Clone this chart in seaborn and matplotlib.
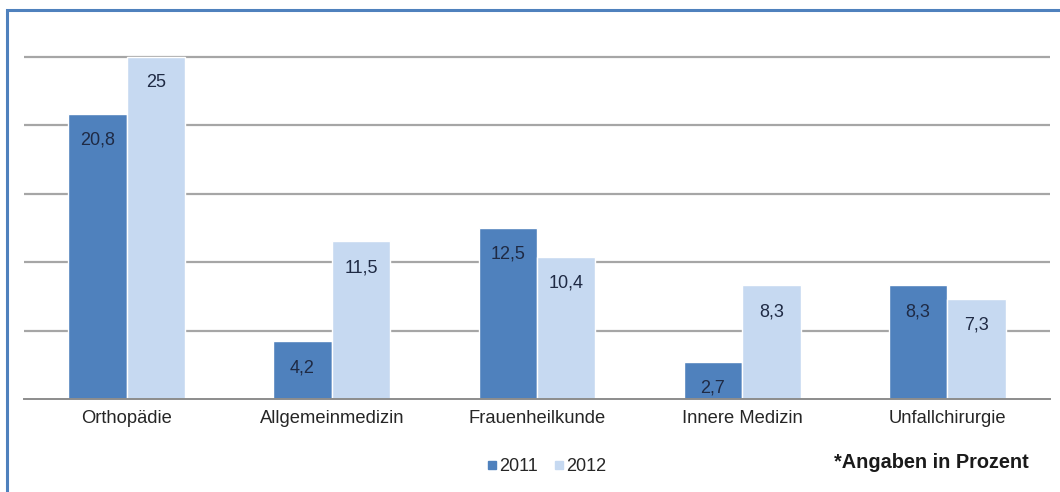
import matplotlib
matplotlib.use("Agg")
import matplotlib.pyplot as plt
import seaborn as sns
import pandas as pd
from matplotlib.patches import Rectangle

# Daten
fachgebiete = ["Orthopädie", "Allgemeinmedizin", "Frauenheilkunde", "Innere Medizin", "Unfallchirurgie"]
werte_2011 = [20.8, 4.2, 12.5, 2.7, 8.3]
werte_2012 = [25, 11.5, 10.4, 8.3, 7.3]
jahre = ["2011", "2012"]

df = pd.DataFrame({
    "Fachgebiet": fachgebiete * 2,
    "Jahr": [jahre[0]] * len(fachgebiete) + [jahre[1]] * len(fachgebiete),
    "Wert": werte_2011 + werte_2012,
})

sns.set_style("white")
plt.rcParams["font.family"] = ["Liberation Sans", "DejaVu Sans"]

farben = {"2011": "#4F81BD", "2012": "#C6D9F1"}

fig = plt.figure(figsize=(10.6, 4.92), dpi=100)
ax = fig.add_axes([0.0226, 0.189, 0.968, 0.7045])

sns.barplot(data=df, x="Fachgebiet", y="Wert", hue="Jahr", palette=farben,
            width=0.57, gap=0, saturation=1, ax=ax, legend=False)

ax.set_ylim(0, 25.3)
ax.set_xlim(-0.5, len(fachgebiete) - 0.5)
ax.set_yticks([5, 10, 15, 20, 25])
ax.yaxis.grid(True, color="#A6A6A6", linewidth=1.6)
ax.set_axisbelow(True)
ax.set_yticklabels([])
ax.tick_params(axis="y", length=0)
for s in ["top", "right", "left"]:
    ax.spines[s].set_visible(False)
ax.spines["bottom"].set_color("#8C8C8C")
ax.spines["bottom"].set_linewidth(1.4)

# Kategorie-Trennstriche
ax.set_xticks([i - 0.5 for i in range(len(fachgebiete) + 1)], minor=True)
ax.tick_params(axis="x", which="minor", length=4, color="#8C8C8C", width=1.2, direction="out")
ax.tick_params(axis="x", which="major", length=0, labelsize=13.2, labelcolor="#262626", pad=8)
ax.set_xlabel("")
ax.set_ylabel("")

# Wertebeschriftungen
for cont in ax.containers:
    labels = [f"{v:g}".replace(".", ",") for v in cont.datavalues]
    ax.bar_label(cont, labels=labels, label_type="edge", padding=-25,
                 fontsize=13, color="#1F2A44")

# Legende
handles = [plt.Line2D([], [], marker="s", linestyle="", markersize=5.5,
                      color=farben[j]) for j in jahre]
fig.legend(handles, jahre, loc="center", bbox_to_anchor=(0.515, 0.052), ncol=2,
           frameon=False, fontsize=13, handletextpad=0.05, columnspacing=0.8,
           handlelength=0.7)

fig.text(0.787, 0.06, "*Angaben in Prozent", fontsize=14.3, fontweight="bold",
         color="#1A1A1A", va="center", ha="left")

# Rahmen
fig.patches.append(Rectangle((0.0066, -0.1), 1.2, 1.08, transform=fig.transFigure,
                             fill=False, edgecolor="#4F81BD", linewidth=2.2))

fig.savefig("out.png", dpi=100)
